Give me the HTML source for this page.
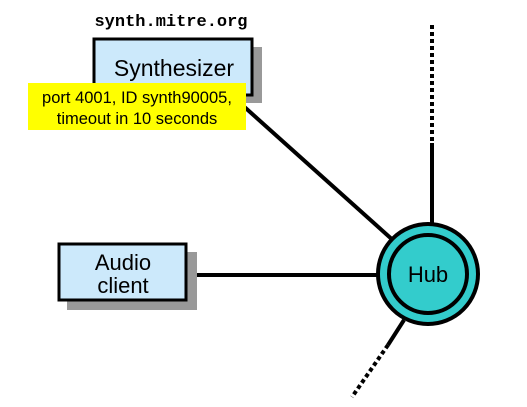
<!DOCTYPE html>
<html><head><style>
body{margin:0;background:#fff;width:527px;height:407px;overflow:hidden}
</style></head><body>
<svg width="527" height="407" xmlns="http://www.w3.org/2000/svg" style="position:absolute;left:0;top:0">
<line x1="432" y1="25" x2="432" y2="143" stroke="#000" stroke-width="4" stroke-dasharray="4,3"/>
<line x1="432" y1="143" x2="432" y2="225" stroke="#000" stroke-width="4"/>
<line x1="240" y1="103" x2="395" y2="242" stroke="#000" stroke-width="4"/>
<line x1="190" y1="275" x2="380" y2="275" stroke="#000" stroke-width="4"/>
<line x1="404" y1="320" x2="388" y2="345" stroke="#000" stroke-width="4"/>
<line x1="388" y1="345" x2="352" y2="397" stroke="#000" stroke-width="4" stroke-dasharray="4,3"/>
<rect x="103" y="47" width="159" height="56" fill="#999"/>
<rect x="94" y="39" width="158" height="56" fill="#cce9fb" stroke="#000" stroke-width="3"/>
<text x="174" y="76" font-family="Liberation Sans, sans-serif" font-size="23" text-anchor="middle">Synthesizer</text>
<text x="171" y="26" font-family="Liberation Mono, monospace" font-weight="bold" font-size="17" text-anchor="middle">synth.mitre.org</text>
<rect x="28" y="83" width="218" height="47" fill="#ffff00"/>
<text x="137" y="103" font-family="Liberation Sans, sans-serif" font-size="16.5" text-anchor="middle">port 4001, ID synth90005,</text>
<text x="137" y="124" font-family="Liberation Sans, sans-serif" font-size="16.5" text-anchor="middle">timeout in 10 seconds</text>
<rect x="67" y="252" width="130" height="58" fill="#999"/>
<rect x="59" y="244" width="127" height="56" fill="#cce9fb" stroke="#000" stroke-width="3"/>
<text x="123" y="270" font-family="Liberation Sans, sans-serif" font-size="22" text-anchor="middle">Audio</text>
<text x="123" y="293" font-family="Liberation Sans, sans-serif" font-size="22" text-anchor="middle">client</text>
<circle cx="428" cy="274" r="50" fill="#33cccc" stroke="#000" stroke-width="4"/>
<circle cx="428" cy="274" r="39" fill="#33cccc" stroke="#000" stroke-width="4"/>
<text x="428" y="282" font-family="Liberation Sans, sans-serif" font-size="22" text-anchor="middle">Hub</text>
</svg>
</body></html>
